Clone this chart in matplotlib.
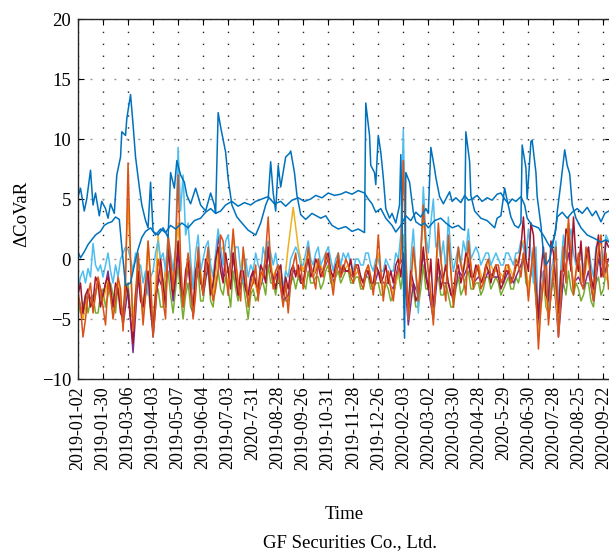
import numpy as np
import matplotlib
matplotlib.use("Agg")
import matplotlib.pyplot as plt

# one label every 20 trading days
tickLabels = ["2019-01-02", "2019-01-30", "2019-03-06", "2019-04-03", "2019-05-07",
              "2019-06-04", "2019-07-03", "2020-7-31", "2019-08-28", "2019-09-26",
              "2019-10-31", "2019-11-28", "2019-12-26", "2020-02-03", "2020-03-02",
              "2020-03-30", "2020-04-28", "2020-5-29", "2020-06-30", "2020-07-28",
              "2020-08-25", "2020-09-22"]

# two blue series (read at irregular days to keep the spikes)
blueA_x = [0, 2, 5, 7, 10, 12, 14, 17, 19, 22, 24, 26, 29, 31, 34, 35, 38, 39, 42, 44,
           46, 49, 51, 54, 56, 58, 60, 64, 68, 72, 74, 77, 79, 82, 85, 87, 90, 94, 98, 102,
           106, 109, 110, 112, 114, 118, 120, 123, 127, 131, 136, 142, 146, 150, 152, 154, 156, 158, 160, 162,
           166, 169, 170, 173, 175, 178, 182, 187, 194, 198, 203, 208, 214, 219, 224, 229, 230, 233, 234, 237,
           238, 240, 242, 244, 246, 249, 251, 254, 257, 258, 261, 262, 265, 268, 270, 274, 277, 280, 285, 290,
           294, 299, 304, 307, 309, 310, 313, 314, 317, 322, 327, 333, 335, 338, 341, 343, 346, 349, 352, 354,
           355, 358, 359, 362, 363, 366, 367, 370, 372, 374, 377, 379, 382, 383, 386, 389, 391, 393, 395, 398,
           402, 407, 413, 418, 422, 426]
blueA_y = [5.2, 5.9, 4.0, 5.0, 7.4, 4.5, 5.5, 3.6, 4.8, 4.2, 3.4, 4.6, 3.8, 7.0, 8.5, 10.6, 10.3, 11.7, 13.7, 11.2,
           8.5, 6.0, 4.5, 3.2, 2.6, 6.4, 2.3, 2.0, 2.6, 1.8, 7.2, 5.9, 8.2, 7.0, 6.4, 5.3, 4.6, 5.9, 4.5, 4.0,
           5.5, 4.5, 3.8, 12.2, 11.0, 8.9, 6.7, 4.5, 3.5, 3.0, 2.4, 2.0, 3.0, 4.5, 5.0, 8.1, 5.5, 4.0, 7.8, 6.0,
           8.5, 8.8, 9.0, 7.2, 5.3, 3.7, 3.3, 3.8, 3.4, 3.6, 2.8, 2.5, 2.7, 2.3, 2.5, 2.2, 13.0, 10.3, 7.8, 7.2,
           6.2, 10.3, 8.9, 6.8, 4.2, 3.4, 3.8, 3.0, 4.5, 8.7, -6.6, 7.2, 6.4, 3.9, 3.1, 2.8, 3.0, 2.6, 3.2, 3.4,
           3.0, 2.6, 2.8, 2.5, 2.4, 10.6, 8.1, 5.3, 4.0, 3.4, 3.2, 2.6, 3.4, 3.6, 5.9, 4.9, 3.5, 2.8, 2.6, 3.0,
           9.5, 7.6, 5.0, 9.8, 9.9, 7.2, 5.2, 2.8, 0.5, -0.5, 0.0, 1.0, 2.5, 3.9, 6.4, 9.1, 7.8, 7.1, 4.5, 3.4,
           2.6, 2.0, 1.7, 1.4, 1.6, 1.3]

blueB_x = [0, 2, 5, 8, 11, 14, 18, 21, 24, 27, 30, 33, 35, 38, 42, 45, 48, 51, 54, 58,
           62, 66, 70, 74, 78, 83, 88, 93, 98, 102, 106, 110, 114, 118, 123, 128, 133, 138, 142, 147,
           152, 157, 162, 166, 171, 176, 181, 186, 190, 195, 200, 205, 210, 214, 219, 224, 229, 232, 235, 238,
           242, 246, 251, 254, 258, 262, 266, 270, 274, 278, 280, 282, 285, 286, 289, 292, 294, 297, 299, 302,
           306, 309, 312, 315, 319, 323, 327, 331, 335, 338, 341, 344, 347, 350, 354, 357, 359, 363, 368, 373,
           375, 378, 381, 383, 387, 391, 395, 399, 403, 407, 411, 414, 418, 421, 426]
blueB_y = [0.6, 0.1, 0.6, 1.2, 1.6, 2.0, 2.3, 2.8, 3.0, 3.1, 3.5, 3.3, 1.0, -2.2, -2.0, -0.5, 0.8, 1.8, 2.3, 2.6,
           2.0, 2.5, 2.2, 2.8, 2.5, 3.0, 2.6, 3.2, 3.4, 3.9, 4.2, 3.8, 4.0, 4.5, 4.8, 4.4, 4.7, 4.5, 4.8, 5.0,
           5.2, 4.6, 4.8, 4.4, 4.9, 5.1, 4.8, 5.0, 5.3, 5.1, 5.5, 5.3, 5.4, 5.6, 5.4, 5.7, 5.5, 5.0, 4.6, 3.9,
           4.2, 3.4, 2.8, 2.25, 2.8, 3.6, 3.2, 3.9, 3.5, 4.2, 3.8, 9.3, 7.5, 6.8, 5.2, 4.6, 5.0, 5.6, 4.8, 5.1,
           4.7, 5.3, 4.9, 5.0, 5.3, 4.8, 5.1, 4.9, 5.4, 5.5, 5.0, 4.6, 5.0, 4.8, 5.2, 4.5, 3.4, 2.8, 2.6, 1.8,
           1.4, 0.9, 2.0, 3.5, 3.9, 3.4, 3.9, 4.2, 3.8, 4.3, 3.6, 4.0, 3.1, 3.8, 4.1]

# the noisy group: four series read every 2 trading days, two every 4
days2 = np.arange(0, 425, 2)
days4 = np.arange(0, 425, 4)

orange = [-2.8, -4.0, -6.5, -5.0, -3.0, -2.0, -4.5, -3.0, -1.5, -2.5, -4.0, -5.5, -2.0, -3.0, -5.0, -3.5,
          -1.5, -2.5, -6.0, -2.0, 8.0, 0.0, -6.0, -4.0, 0.5, -2.0, -5.5, -3.0, 1.5, -1.5, -6.5, -4.0,
          0.0, -1.0, -3.5, -5.0, 2.0, 0.0, -2.5, 1.0, 7.0, 0.0, -4.0, -2.0, 0.5, -1.0, -5.0, -3.0,
          1.0, -1.5, -3.0, -1.0, 1.0, -2.0, -3.5, -2.5, -1.0, 2.0, 1.5, -1.0, -3.0, -0.5, 2.5, 0.0,
          -2.0, -3.5, 1.0, -1.0, -4.0, -2.5, -2.0, -0.5, -3.5, -1.0, -1.5, 0.5, 3.5, -0.5, -2.5, -1.0,
          -0.5, -2.5, -4.0, -2.0, -4.5, -2.0, -0.5, 0.5, -1.5, -0.5, -2.5, -1.0, 1.0, -0.5, -1.5, -2.5,
          0.0, -1.0, -1.5, 0.5, 0.0, -1.5, -3.0, -1.0, 0.5, -1.5, -1.0, 0.0, -0.5, -1.5, -2.0, -0.5,
          -1.0, -2.0, -2.5, -1.0, -0.5, -1.5, -3.0, -1.0, 2.0, -1.0, -3.5, -1.5, -1.0, -2.5, -3.5, -1.5,
          -1.0, 0.0, 8.2, 0.0, -5.0, -2.0, 1.0, -1.0, -3.5, 0.5, 4.5, 1.0, -1.0, -3.0, -5.5, -1.0,
          3.0, 0.0, -2.0, -3.5, 2.0, -1.0, -4.0, -1.5, 1.0, -0.5, -1.5, -3.0, 1.5, -0.5, -2.5, -1.0,
          -0.5, -2.5, -2.0, -0.5, 0.0, -1.5, -1.5, -0.5, -0.5, -2.0, -1.5, -0.5, -0.5, -2.0, -1.5, 0.0,
          -0.5, -1.5, 0.5, -1.0, -3.5, -1.0, 1.0, -3.0, -7.5, -4.0, -2.0, 0.5, -5.5, -3.0, -1.0, 1.0,
          -6.5, -3.0, 1.0, -2.0, 3.5, 0.0, -3.0, -1.0, 0.5, -2.0, -2.5, 1.0, 0.0, -2.0, -3.5, -1.0,
          0.5, 2.0, -1.5, 0.5, -2.5]

darkred = [-3.0, -2.0, -4.5, -3.0, -2.5, -4.0, -3.5, -1.5, -2.0, -4.0, -3.0, -2.0, -1.5, -2.5, -4.0, -2.0,
           -2.5, -4.5, -5.0, -2.0, -3.0, -5.0, -7.0, -3.0, -1.0, -3.5, -4.0, -2.0, -1.0, -4.0, -6.0, -3.0,
           -2.0, 0.0, -2.0, -4.0, 1.0, -1.0, -3.0, -1.5, 1.5, -2.0, -3.5, -1.0, 0.0, -2.5, -4.0, -1.0,
           0.0, -2.0, -2.5, 0.0, -0.5, -3.0, -2.0, 0.0, 1.0, -1.0, -2.0, 0.5, -1.0, -2.5, 0.5, -1.5,
           -3.0, -1.0, -1.0, -2.5, -3.0, -1.5, -1.0, -2.0, -2.5, -0.5, -1.0, -2.0, 1.0, -1.0, -1.5, -2.5,
           -1.0, -0.5, -3.0, -1.5, -2.5, -1.0, -0.5, -1.5, -0.5, -2.0, -2.0, -0.5, 0.0, -1.5, -1.0, 0.0,
           -0.5, -1.5, -1.0, 0.0, 0.5, -1.0, -1.5, -0.5, 0.0, -1.5, -0.5, -1.0, -1.0, 0.0, -1.5, -0.5,
           -0.5, -1.5, -2.0, -1.0, -1.0, -2.0, -2.0, -0.5, -1.0, -2.0, -1.5, -0.5, -2.0, -1.0, -2.0, -0.5,
           0.0, -1.5, 0.5, -2.0, -4.0, -1.0, -2.0, -3.5, -3.0, -1.0, 1.0, -1.5, -2.5, 0.0, -4.0, -2.0,
           0.0, -2.5, -1.5, -0.5, -2.0, -3.0, -3.0, -1.0, -0.5, -2.0, -1.0, 0.5, 0.0, -1.5, -1.5, -0.5,
           -1.0, -2.0, -1.5, -0.5, -1.0, -2.0, -1.0, -0.5, -1.5, -2.5, -2.0, -1.0, -1.0, -2.0, -1.5, -0.5,
           -0.5, 1.0, 3.5, 0.0, -1.0, 3.0, 2.0, -2.0, -5.0, -1.0, 1.0, -3.0, -3.5, 1.5, 0.5, -2.0,
           -4.5, -1.0, -1.0, 2.5, 2.0, -1.0, 3.5, 0.0, -1.0, 1.5, -2.0, 0.0, 1.0, -1.5, -2.5, 0.5,
           2.0, -1.5, -1.0, 1.5, 1.0]

green = [-3.5, -4.5, -4.0, -3.0, -4.5, -3.5, -3.0, -4.5, -4.5, -3.0, -2.5, -4.0, -3.0, -2.0, -3.0, -4.5,
         -2.0, -3.5, -4.5, -3.0, -2.0, -4.5, -5.0, -3.0, 0.0, -2.5, -4.0, -2.5, -2.0, -4.5, -5.5, -3.0,
         -2.5, -4.0, -4.0, -2.0, -1.0, -3.0, -4.5, -2.5, -0.5, -3.0, -5.0, -3.0, -2.0, -4.0, -4.5, -2.0,
         -1.0, -3.5, -3.5, -1.5, -1.0, -3.5, -4.0, -2.0, -1.0, -2.5, -3.0, -1.5, -2.5, -4.0, -1.0, -2.5,
         -3.5, -2.0, -2.0, -3.5, -5.0, -3.0, -2.5, -3.5, -3.0, -2.0, -2.0, -3.0, -0.5, -2.0, -2.0, -3.0,
         -1.5, -2.5, -2.5, -3.5, -3.5, -2.0, -1.5, -2.5, -1.5, -2.0, -2.0, -2.5, -1.0, -2.0, -2.0, -1.5,
         -1.5, -2.5, -2.0, -1.0, -0.5, -2.0, -2.0, -1.5, -1.0, -2.0, -1.5, -1.0, -1.0, -2.0, -2.0, -1.5,
         -1.5, -2.5, -2.5, -1.5, -1.5, -2.5, -2.5, -2.0, -2.0, -3.0, -3.0, -2.0, -2.5, -3.5, -3.0, -2.0,
         -1.0, -2.5, -1.0, -3.0, -3.5, -2.0, -2.5, -4.0, -4.0, -2.5, -0.5, -2.5, -2.5, -3.5, -4.5, -2.0,
         -1.5, -3.0, -3.0, -2.0, -3.0, -4.0, -4.0, -2.5, -1.5, -3.0, -2.5, -1.5, -1.0, -2.5, -2.5, -2.0,
         -2.0, -3.0, -2.5, -1.5, -1.5, -2.5, -2.0, -1.5, -2.0, -3.0, -2.5, -2.0, -1.5, -2.5, -2.5, -1.5,
         -2.0, -1.0, 0.5, -2.0, -2.5, -1.0, -1.0, -3.5, -5.5, -3.0, -1.5, -4.0, -4.5, -2.0, -2.0, -3.5,
         -5.5, -3.0, -2.0, -3.0, -1.0, -2.5, -3.0, -2.0, -2.5, -3.5, -3.0, -2.0, -2.0, -3.5, -4.0, -2.0,
         -1.5, -3.0, -2.5, -1.0, -0.5]

lightblue = [-2.5, -1.5, -1.0, -2.0, -0.8, -1.5, 1.3, -0.5, -1.0, -0.5, -1.5, -0.5, 0.5, -1.0, -2.0, -0.5,
             -1.5, 0.0, 0.5, 1.0, 0.8, 0.0, -1.0, 0.5, -1.0, -0.5, -2.0, -1.0, -3.0, -1.5, -1.0, 0.5,
             1.5, 0.0, 0.5, -1.0, 2.0, 0.5, -1.0, 1.0, 9.3, 4.0, 7.0, 2.0, 3.0, 0.0, -2.5, 0.5,
             2.0, -1.0, 0.0, 1.0, 1.5, -0.5, -1.5, 0.5, 2.5, 1.0, -0.5, 1.5, 2.0, 0.0, -0.5, 1.0,
             1.0, -1.0, -2.0, 0.0, -1.5, -0.5, -1.0, 0.5, -0.5, -1.0, 1.0, 0.0, 1.5, 0.5, -0.5, 0.5,
             -1.0, -0.5, -2.5, -1.0, -1.5, 0.0, 0.5, 1.0, 0.5, -0.5, -0.5, 0.5, 1.5, 0.0, -0.5, 0.5,
             1.0, -0.5, 0.0, 0.5, 1.0, 0.0, -1.0, 0.0, 0.5, -0.5, 0.5, 0.0, 0.5, -0.5, -1.0, 0.0,
             0.0, -0.5, -0.5, 0.5, 0.5, -0.5, -1.0, 0.0, 0.0, -1.0, -1.0, 0.0, -0.5, -1.0, -1.0, 0.5,
             0.0, 2.0, 10.8, 1.0, -5.0, 0.0, 2.5, -1.0, -4.5, 0.5, 6.0, 2.0, 0.5, 3.0, 5.0, 1.0,
             1.5, 0.0, 1.5, -1.0, 3.5, 0.5, -1.0, 0.0, 1.0, -0.5, 1.5, 0.5, 2.5, 0.0, 0.5, 1.0,
             0.5, -0.5, 0.0, 0.5, 0.5, -0.5, 0.0, 0.5, 0.0, -0.5, -0.5, 0.5, 0.5, 0.0, -0.5, 0.5,
             0.5, 1.5, 1.0, 0.0, 2.5, 0.5, -2.0, 1.0, -5.0, -1.0, -2.0, 0.5, -4.0, -1.0, 0.0, 1.5,
             -4.0, -0.5, 2.0, 0.0, 1.5, 2.5, 0.5, -0.5, -0.5, 1.0, -1.0, 0.5, 1.0, -0.5, -1.5, 1.0,
             1.5, -0.5, 0.0, 2.0, 1.5]

yellow = [-3.0, -5.0, -3.0, -4.0, -2.0, -3.5, -1.8, -4.5, -2.0, -5.5,
          4.8, -5.5, 0.0, -5.0, 1.5, -6.0, 2.0, -3.0, 1.5, -2.0,
          3.0, -4.0, 0.0, -4.5, 0.5, -2.5, 0.5, -3.0, 0.5, 1.0,
          -2.5, 2.0, -2.5, 0.5, -3.5, -1.5, -3.0, -1.0, 1.0, -1.5,
          -0.5, -3.0, 1.0, 4.3, 1.0, -1.0, 0.5, -1.5, 0.0, -1.0,
          0.5, -2.5, 0.0, -1.0, -0.5, -1.5, -1.0, -2.0, -0.5, -2.5,
          0.5, -2.5, -1.5, -3.0, -1.0, 2.0, -4.5, 0.5, -3.0, 3.5,
          -1.0, -5.0, 2.0, -2.0, 1.5, -3.5, 0.5, -1.0, 1.0, -2.0,
          -0.5, -2.0, 0.0, -1.0, -1.0, -1.5, -0.5, -1.5, 0.0, 1.5,
          -2.5, 0.5, -6.5, -1.5, -5.0, -0.5, -6.0, 1.0, 3.0, -2.5,
          0.0, -2.0, 0.5, -3.0, 1.0, -1.0, -2.0]

purple = [-3.2, -4.8, -2.8, -3.8, -1.8, -3.2, -1.0, -4.2, -2.5, -5.5,
          -2.5, -7.8, -1.5, -4.5, -1.5, -6.5, -1.5, -2.5, 0.5, -3.5,
          0.5, -4.0, -0.5, -4.8, 0.0, -3.0, -0.5, -3.0, 2.0, -1.5,
          -1.0, 0.5, -3.0, -1.5, -3.5, -1.0, -3.0, -1.5, 0.5, -2.0,
          -1.0, -3.5, -3.0, -1.0, -1.0, -2.0, 0.0, -1.5, -0.5, -1.0,
          0.0, -2.0, -0.5, -1.0, -1.0, -1.5, -1.0, -2.0, -1.0, -2.5,
          -1.0, -2.0, -2.0, -2.5, -0.5, 0.0, -5.5, -2.0, -3.0, 0.5,
          -2.5, -5.0, -0.5, -2.0, -2.0, -3.5, -1.0, -1.5, -0.5, -2.0,
          -1.5, -2.0, -1.0, -1.5, -1.5, -2.0, -1.0, -2.0, -1.0, 0.0,
          -2.5, 0.0, -6.0, -1.0, -5.0, -1.0, -6.5, -1.5, 0.5, -2.0,
          -1.5, -2.5, -1.0, -3.5, 0.0, -1.5, 0.0]

plt.rcParams['font.family'] = ['Liberation Serif', 'DejaVu Serif']

fig = plt.figure(figsize=(6.09, 5.51), dpi=100)
ax = fig.add_axes([78 / 609, 172 / 551, 533 / 609, 360 / 551])

lw = 1.1
ax.plot(days2, green, color="#77AC30", lw=lw)
ax.plot(days4, purple, color="#7E2F8E", lw=lw)
ax.plot(days4, yellow, color="#EDB120", lw=lw)
ax.plot(days2, lightblue, color="#4DBEEE", lw=lw)
ax.plot(days2, darkred, color="#A2142F", lw=lw)
ax.plot(days2, orange, color="#D95319", lw=lw)
ax.plot(blueA_x, blueA_y, color="#0072BD", lw=lw)
ax.plot(blueB_x, blueB_y, color="#0072BD", lw=lw)

ax.set_xlim(0, 426)
ax.set_ylim(-10, 20)
ax.set_xticks(np.arange(0, 421, 20))
ax.set_xticklabels(tickLabels, rotation=90, fontsize=13)
ax.set_yticks([-10, -5, 0, 5, 10, 15, 20])
ax.tick_params(axis="y", labelsize=13.5)
ax.tick_params(direction="in", top=True, right=True, length=4, width=0.8, pad=5)

ax.set_axisbelow(True)
ax.xaxis.grid(True, color="#222222", linestyle=(0, (1, 7.6)), linewidth=1.0)
ax.yaxis.grid(True, color="#9a9a9a", linestyle=(0, (1.5, 7.1)), linewidth=1.0)
for s in ax.spines.values():
    s.set_linewidth(1.0)
    s.set_color("#262626")

fig.text(22 / 609, (551 - 214) / 551, "ΔCoVaR", rotation=90, ha="center", va="center", fontsize=13.5)
fig.text(344 / 609, (551 - 519) / 551, "Time", ha="center", va="baseline", fontsize=13.5)
fig.text(350 / 609, (551 - 547) / 551, "GF Securities Co., Ltd.", ha="center", va="baseline", fontsize=13.5)

plt.savefig("out.png", dpi=100)
